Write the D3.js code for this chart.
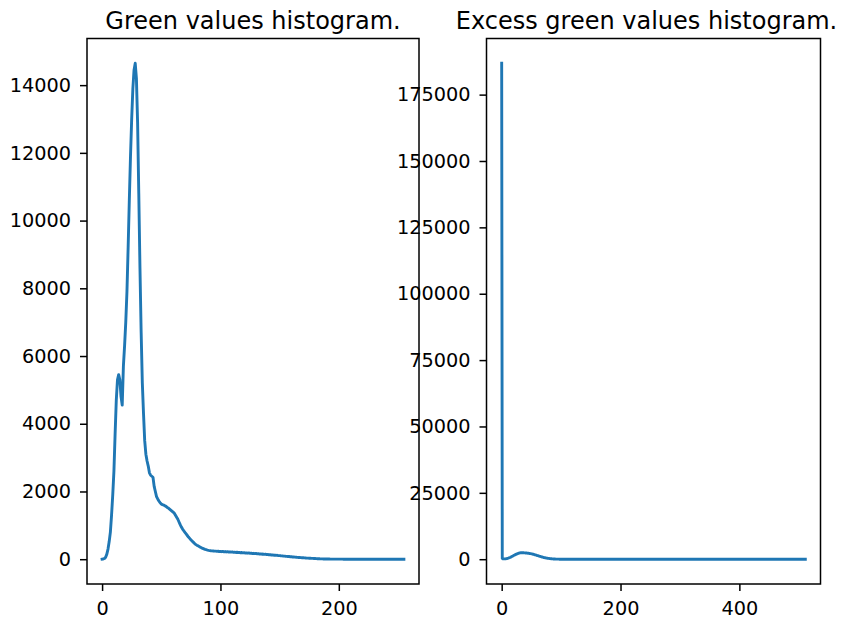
<!DOCTYPE html>
<html>
<head>
<meta charset="utf-8">
<script src="https://cdn.jsdelivr.net/npm/d3@7"></script>
<style>
  body { margin: 0; background: #fff; }
  #chart { width: 850px; height: 620px; }
  .axis text { font-family: "DejaVu Sans", sans-serif; font-size: 19.3px; fill: #000; }
  .axis line { stroke: #000; stroke-width: 1.5; }
  .title { font-family: "DejaVu Sans", sans-serif; font-size: 24px; fill: #000; }
</style>
</head>
<body>
<div id="chart"></div>
<script>

// DATA

// green channel histogram, bins 0..255
const greenCounts = [
    0, 5, 20, 60, 150, 300, 520, 800, 1300, 1900,
    2600, 3700, 4700, 5300, 5450, 5300, 4800, 4550, 5700, 6300,
    7000, 7900, 9200, 10600, 11900, 13000, 13900, 14450, 14645, 14200,
    12900, 10800, 8600, 6700, 5200, 4300, 3500, 3100, 2900, 2750,
    2550, 2480, 2450, 2420, 2150, 2000, 1850, 1780, 1720, 1670,
    1630, 1610, 1600, 1580, 1560, 1530, 1510, 1480, 1450, 1420,
    1390, 1360, 1300, 1240, 1180, 1100, 1020, 950, 890, 840,
    790, 745, 700, 655, 615, 575, 540, 505, 470, 440,
    415, 395, 375, 355, 335, 320, 305, 290, 280, 270,
    262, 255, 250, 246, 242, 238, 240, 232, 236, 228,
    232, 222, 230, 218, 226, 214, 222, 210, 218, 208,
    214, 203, 210, 198, 206, 194, 202, 190, 198, 186,
    192, 182, 188, 178, 184, 173, 180, 168, 174, 164,
    170, 158, 164, 153, 158, 148, 152, 142, 147, 136,
    140, 130, 135, 124, 128, 118, 122, 112, 115, 106,
    106, 101, 99, 95, 92, 88, 85, 81, 78, 74,
    71, 67, 64, 61, 58, 55, 52, 49, 46, 43,
    41, 38, 36, 33, 31, 29, 27, 25, 23, 21,
    19, 17, 15, 14, 12, 11, 9, 8, 7, 6,
    5, 4, 4, 3, 3, 2, 2, 2, 1, 1,
    1, 1, 1, 1, 0, 1, 0, 1, 0, 0,
    0, 0, 1, 0, 0, 0, 0, 0, 0, 0,
    0, 0, 0, 0, 0, 0, 0, 0, 0, 0,
    0, 0, 0, 0, 0, 0, 0, 0, 0, 0,
    0, 0, 0, 0, 0, 0, 0, 0, 0, 0,
    0, 0, 0, 0, 0, 0
];

// excess green histogram, bins 0..511
const excessCounts = [
    186800, 300, 150, 120, 110, 120, 140, 170, 210, 260,
    320, 390, 470, 560, 660, 770, 880, 1000, 1120, 1240,
    1360, 1480, 1600, 1720, 1830, 1940, 2040, 2130, 2210, 2280,
    2340, 2390, 2420, 2440, 2450, 2450, 2440, 2420, 2400, 2380,
    2360, 2340, 2320, 2290, 2260, 2230, 2200, 2160, 2120, 2080,
    2030, 1980, 1920, 1860, 1800, 1730, 1660, 1590, 1520, 1450,
    1380, 1310, 1240, 1170, 1100, 1030, 960, 890, 830, 770,
    710, 650, 600, 550, 500, 450, 410, 370, 330, 290,
    260, 230, 200, 170, 150, 130, 110, 90, 75, 60,
    50, 40, 32, 25, 20, 15, 12, 9, 7, 5,
    4, 3, 3, 2, 2, 1, 1, 1, 1, 1,
    0, 0, 0, 0, 0, 0, 0, 0, 0, 0, 0, 0, 0, 0, 0, 0, 0, 0, 0, 0,
    0, 0, 0, 0, 0, 0, 0, 0, 0, 0, 0, 0, 0, 0, 0, 0, 0, 0, 0, 0,
    0, 0, 0, 0, 0, 0, 0, 0, 0, 0, 0, 0, 0, 0, 0, 0, 0, 0, 0, 0,
    0, 0, 0, 0, 0, 0, 0, 0, 0, 0, 0, 0, 0, 0, 0, 0, 0, 0, 0, 0,
    0, 0, 0, 0, 0, 0, 0, 0, 0, 0, 0, 0, 0, 0, 0, 0, 0, 0, 0, 0,
    0, 0, 0, 0, 0, 0, 0, 0, 0, 0, 0, 0, 0, 0, 0, 0, 0, 0, 0, 0,
    0, 0, 0, 0, 0, 0, 0, 0, 0, 0, 0, 0, 0, 0, 0, 0, 0, 0, 0, 0,
    0, 0, 0, 0, 0, 0, 0, 0, 0, 0, 0, 0, 0, 0, 0, 0, 0, 0, 0, 0,
    0, 0, 0, 0, 0, 0, 0, 0, 0, 0, 0, 0, 0, 0, 0, 0, 0, 0, 0, 0,
    0, 0, 0, 0, 0, 0, 0, 0, 0, 0, 0, 0, 0, 0, 0, 0, 0, 0, 0, 0,
    0, 0, 0, 0, 0, 0, 0, 0, 0, 0, 0, 0, 0, 0, 0, 0, 0, 0, 0, 0,
    0, 0, 0, 0, 0, 0, 0, 0, 0, 0, 0, 0, 0, 0, 0, 0, 0, 0, 0, 0,
    0, 0, 0, 0, 0, 0, 0, 0, 0, 0, 0, 0, 0, 0, 0, 0, 0, 0, 0, 0,
    0, 0, 0, 0, 0, 0, 0, 0, 0, 0, 0, 0, 0, 0, 0, 0, 0, 0, 0, 0,
    0, 0, 0, 0, 0, 0, 0, 0, 0, 0, 0, 0, 0, 0, 0, 0, 0, 0, 0, 0,
    0, 0, 0, 0, 0, 0, 0, 0, 0, 0, 0, 0, 0, 0, 0, 0, 0, 0, 0, 0,
    0, 0, 0, 0, 0, 0, 0, 0, 0, 0, 0, 0, 0, 0, 0, 0, 0, 0, 0, 0,
    0, 0, 0, 0, 0, 0, 0, 0, 0, 0, 0, 0, 0, 0, 0, 0, 0, 0, 0, 0,
    0, 0, 0, 0, 0, 0, 0, 0, 0, 0, 0, 0, 0, 0, 0, 0, 0, 0, 0, 0,
    0, 0, 0, 0, 0, 0, 0, 0, 0, 0, 0, 0, 0, 0, 0, 0, 0, 0, 0, 0,
    0, 0
];

const greenXTicks = [0, 100, 200];
const greenYTicks = [0, 2000, 4000, 6000, 8000, 10000, 12000, 14000];
const excessXTicks = [0, 200, 400];
const excessYTicks = [0, 25000, 50000, 75000, 100000, 125000, 150000, 175000];

const titles = ["Green values histogram.", "Excess green values histogram."];

// SVG CANVAS

const width = 850;
const height = 620;
const plotTop = 38.5;
const plotBottom = 584;

const svg = d3.select("#chart")
    .append("svg")
    .attr("width", width)
    .attr("height", height);

const panels = [
    {title: titles[0], counts: greenCounts, xTicks: greenXTicks, yTicks: greenYTicks, left: 87, right: 419, titleShift: 0},
    {title: titles[1], counts: excessCounts, xTicks: excessXTicks, yTicks: excessYTicks, left: 486.5, right: 820.5, titleShift: -7}
];

panels.forEach(function(p) {

    const g = svg.append("g");
    const n = p.counts.length;
    const yMin = d3.min(p.counts);
    const yMax = d3.max(p.counts);
    const ySpan = yMax - yMin;

    // SCALES (matplotlib-style 5% margins)

    const xScale = d3.scaleLinear()
        .domain([-0.05 * (n - 1), (n - 1) * 1.05])
        .range([p.left, p.right]);

    const yScale = d3.scaleLinear()
        .domain([yMin - 0.05 * ySpan, yMax + 0.05 * ySpan])
        .range([plotBottom, plotTop]);

    // AXES

    const xAxis = g.append("g")
        .attr("class", "axis")
        .attr("transform", `translate(0,${plotBottom})`)
        .call(d3.axisBottom(xScale).tickValues(p.xTicks).tickSize(7).tickPadding(10).tickFormat(d3.format("d")));
    xAxis.select(".domain").remove();

    const yAxis = g.append("g")
        .attr("class", "axis")
        .attr("transform", `translate(${p.left},0)`)
        .call(d3.axisLeft(yScale).tickValues(p.yTicks).tickSize(7).tickPadding(9).tickFormat(d3.format("d")));
    yAxis.select(".domain").remove();

    // LINE

    const line = d3.line()
        .x(function(d, i) { return xScale(i); })
        .y(function(d) { return yScale(d); });

    g.append("path")
        .datum(p.counts)
        .attr("d", line)
        .attr("fill", "none")
        .attr("stroke", "#1f77b4")
        .attr("stroke-width", 2.9)
        .attr("stroke-linejoin", "round")
        .attr("stroke-linecap", "square");

    // FRAME

    g.append("rect")
        .attr("x", p.left)
        .attr("y", plotTop)
        .attr("width", p.right - p.left)
        .attr("height", plotBottom - plotTop)
        .attr("fill", "none")
        .attr("stroke", "#000")
        .attr("stroke-width", 1.5);

    // TITLE

    g.append("text")
        .attr("class", "title")
        .attr("x", (p.left + p.right) / 2 + p.titleShift)
        .attr("y", 28.5)
        .attr("text-anchor", "middle")
        .text(p.title);

});

</script>
</body>
</html>
